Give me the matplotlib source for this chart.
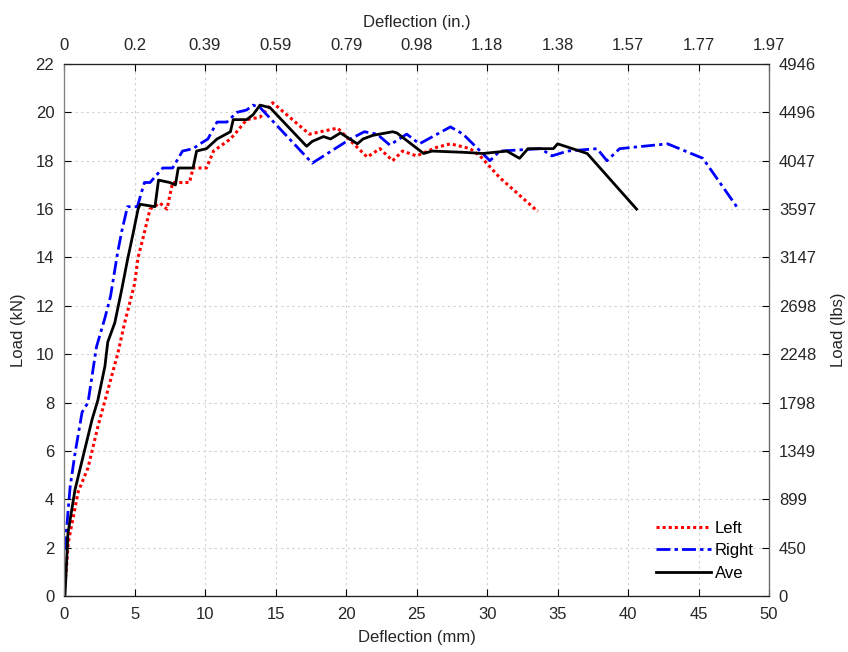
import numpy as np
import matplotlib.pyplot as plt

plt.rcParams['font.family'] = ['Liberation Sans', 'DejaVu Sans']

# load-deflection readings (mm, kN)
left_x = [0, 0.15, 0.3, 1.0, 1.7, 2.4, 3.1, 3.8, 4.3, 5.0, 5.25, 5.6, 6.1, 6.8, 7.3, 7.7, 8.9,
          9.15, 10.1, 10.6, 11.8, 12.25, 12.95, 13.9, 14.8, 17.4, 19.4, 21.5, 22.4, 23.3, 24.0,
          25.0, 26.4, 27.4, 28.8, 29.5, 30.9, 33.6]
left_y = [0, 1.0, 2.2, 4.3, 5.3, 7.0, 8.5, 10.0, 11.3, 12.9, 14.0, 14.8, 16.0, 16.25, 16.0, 17.1, 17.1,
          17.7, 17.7, 18.4, 18.9, 19.2, 19.7, 19.8, 20.4, 19.1, 19.35, 18.15, 18.5, 18.0, 18.4,
          18.2, 18.55, 18.7, 18.5, 18.2, 17.3, 15.9]

right_x = [0, 0.07, 0.43, 0.78, 1.28, 1.7, 2.3, 2.9, 3.3, 3.8, 4.1, 4.5, 5.2, 5.7, 6.1, 7.0, 7.7,
           8.4, 9.15, 9.65, 10.2, 10.85, 11.55, 12.25, 12.95, 13.4, 13.9, 17.6, 20.3, 21.3, 22.2,
           23.1, 24.3, 25.2, 27.4, 28.3, 30.2, 30.9, 33.8, 34.6, 35.7, 37.8, 38.5, 39.4, 42.8,
           45.3, 47.7]
right_y = [1.9, 2.0, 4.5, 5.9, 7.6, 8.0, 10.3, 11.5, 12.4, 14.2, 15.1, 16.1, 16.1, 17.1, 17.1, 17.7, 17.7,
           18.4, 18.5, 18.7, 18.9, 19.6, 19.6, 20.0, 20.1, 20.3, 20.2, 17.9, 18.9, 19.2, 19.1,
           18.65, 19.1, 18.7, 19.4, 19.1, 18.0, 18.4, 18.5, 18.2, 18.4, 18.5, 18.0, 18.5, 18.7,
           18.1, 16.1]

ave_x = [0, 0.07, 0.28, 0.78, 1.28, 1.99, 2.4, 2.9, 3.1, 3.6, 4.1, 4.5, 4.9, 5.25, 5.4, 6.45, 6.7,
         7.5, 7.9, 8.1, 9.15, 9.4, 10.1, 10.85, 11.8, 12.0, 12.95, 13.4, 13.9, 14.6, 17.2, 17.6,
         18.4, 18.9, 19.6, 20.8, 21.2, 21.9, 23.3, 23.6, 25.5, 26.1, 28.3, 29.7, 31.4, 32.3,
         32.9, 34.7, 35.0, 37.1, 40.6]
ave_y = [0, 0.04, 2.6, 4.4, 5.6, 7.3, 8.1, 9.5, 10.5, 11.3, 12.7, 13.9, 15.0, 16.0, 16.2, 16.1, 17.2,
         17.1, 17.0, 17.7, 17.7, 18.4, 18.5, 18.9, 19.2, 19.7, 19.7, 19.9, 20.3, 20.2, 18.6, 18.8,
         19.0, 18.9, 19.15, 18.7, 18.9, 19.05, 19.2, 19.15, 18.3, 18.4, 18.35, 18.3, 18.4, 18.1,
         18.5, 18.5, 18.7, 18.3, 16.0]

mm_ticks = np.arange(0, 51, 5)
in_labels = ['0', '0.2', '0.39', '0.59', '0.79', '0.98', '1.18', '1.38', '1.57', '1.77', '1.97']
kn_ticks = np.arange(0, 23, 2)
lbs_labels = ['0', '450', '899', '1349', '1798', '2248', '2698', '3147', '3597', '4047', '4496', '4946']

fs = 12
txt = '#262626'

fig = plt.figure(figsize=(8.48, 6.52), dpi=100)
ax = fig.add_axes([0.0755, 0.0859, 0.8315, 0.8159])

ax.plot(left_x, left_y, color='red', linestyle=(0, (1, 1)), lw=2.2, label='Left')
ax.plot(right_x, right_y, color='blue', linestyle=(0, (5, 1.5, 1.2, 1.5)), lw=2.0, label='Right')
ax.plot(ave_x, ave_y, color='black', linestyle='-', lw=2.0, label='Ave')

ax.set_xlim(0, 50)
ax.set_ylim(0, 22)
ax.set_xticks(mm_ticks)
ax.set_yticks(kn_ticks)
ax.grid(True, color='#d0d0d0', linestyle=(0, (2, 3)), lw=0.8)
ax.tick_params(axis='x', direction='in', labelsize=fs, length=5, pad=8, labelcolor=txt)
ax.tick_params(axis='y', direction='in', labelsize=fs, length=5, pad=7, labelcolor=txt)
ax.set_xlabel('Deflection (mm)', fontsize=fs, labelpad=6, color=txt)
ax.set_ylabel('Load (kN)', fontsize=fs, labelpad=7, color=txt)

# top axis in inches
axt = ax.twiny()
axt.set_xlim(ax.get_xlim())
axt.set_xticks(mm_ticks)
axt.set_xticklabels(in_labels)
axt.tick_params(direction='in', labelsize=fs, length=5, pad=8, labelcolor=txt)
axt.set_xlabel('Deflection (in.)', fontsize=fs, labelpad=8, color=txt)

# right axis in pounds
axr = ax.twinx()
axr.set_ylim(ax.get_ylim())
axr.set_yticks(kn_ticks)
axr.set_yticklabels(lbs_labels)
axr.tick_params(direction='in', labelsize=fs, length=5, pad=7, labelcolor=txt)
axr.set_ylabel('Load (lbs)', fontsize=fs, labelpad=11, color=txt)

for a in (ax, axt, axr):
    for s in a.spines.values():
        s.set_color('#222222')
    a.spines['left'].set_color('#808080')
    a.spines['right'].set_color('#666666')

ax.legend(loc='lower right', bbox_to_anchor=(1.009, -0.012), frameon=False, fontsize=fs,
          handlelength=3.3, handletextpad=0.2, labelspacing=0.45, borderaxespad=0.9)

fig.savefig('out.png', dpi=100)
